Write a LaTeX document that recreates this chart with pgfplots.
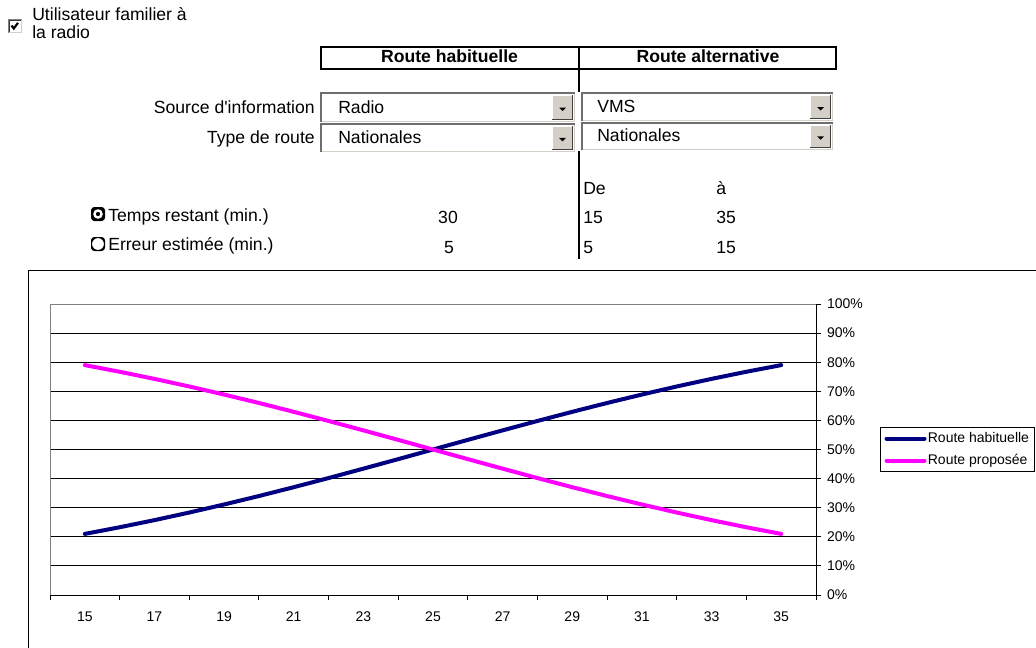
\documentclass[border=0pt]{standalone}
\usepackage{fontspec}
\setmainfont{Liberation Sans}
\usepackage{pgfplots}
\pgfplotsset{compat=1.18}
\definecolor{navyb}{HTML}{000080}
\definecolor{magp}{HTML}{FF00FF}
\definecolor{btn}{HTML}{D4D0C8}
\definecolor{dkg}{HTML}{808080}
\definecolor{brd}{HTML}{6E6E6E}
\newcommand\formfont{\fontsize{13.2pt}{15pt}\selectfont}
\newcommand\chartfont{\fontsize{10.5pt}{12pt}\selectfont}
% combo box: x1 y1 x2 y2 text-x text
\newcommand\combo[6]{%
  \fill[white] (#1,#2) rectangle (#3,#4);
  \draw[brd,line width=1.5pt] (#1+1,#4) -- (#1+1,#2+1) -- (#3,#2+1);
  \draw[btn,line width=0.75pt] (#1+2,#4-0.5) -- (#3-0.5,#4-0.5) -- (#3-0.5,#2+2);
  \fill[btn] (#3-23,#2+3) rectangle (#3-2,#4-2);
  \draw[white,line width=0.75pt] (#3-22.5,#4-2) -- (#3-22.5,#2+3.5) -- (#3-2,#2+3.5);
  \draw[black!75,line width=0.75pt] (#3-23,#4-2.5) -- (#3-2.5,#4-2.5) -- (#3-2.5,#2+3);
  \fill[black] ({#3-16},{(#2+#4)/2+0.5}) -- ({#3-9},{(#2+#4)/2+0.5}) -- ({#3-12.5},{(#2+#4)/2+4}) -- cycle;
  \node[anchor=base west,inner sep=0pt,font=\formfont] at (#5,{#4-9}) {#6};
}
\begin{document}
\begin{tikzpicture}
\useasboundingbox (0,0) rectangle (777pt,-485.25pt);
\clip (0,0) rectangle (777pt,-485.25pt);
\begin{scope}[x=0.75pt,y=-0.75pt]
  % checkbox
  \fill[white] (8,19) rectangle (22,33);
  \draw[dkg,line width=0.75pt] (8.5,33) -- (8.5,19.5) -- (22,19.5);
  \draw[black!80,line width=0.75pt] (9.5,32) -- (9.5,20.5) -- (21,20.5);
  \draw[btn,line width=0.75pt] (9,32.5) -- (21.5,32.5) -- (21.5,20);
  \draw[black,line width=1.6pt] (11.5,25.5) -- (13.8,28.5) -- (18,22.8);
  \node[anchor=base west,inner sep=0pt,font=\formfont] at (32,20) {Utilisateur familier à};
  \node[anchor=base west,inner sep=0pt,font=\formfont] at (32,38) {la radio};
  % header
  \draw[line width=1.5pt] (321,46.5) rectangle (836,68.5);
  \draw[line width=1.5pt] (579,46.5) -- (579,68.5);
  \node[anchor=base,inner sep=0pt,font=\formfont\bfseries] at (449.5,62.5) {Route habituelle};
  \node[anchor=base,inner sep=0pt,font=\formfont\bfseries] at (708,62.5) {Route alternative};
  \draw[line width=1.5pt] (579,68.5) -- (579,92);
  \draw[line width=1.5pt] (579,151) -- (579,259);
  % labels
  \node[anchor=base east,inner sep=0pt,font=\formfont] at (315,113) {Source d\textquotesingle information};
  \node[anchor=base east,inner sep=0pt,font=\formfont] at (315,143) {Type de route};
  \combo{320}{92}{575}{122}{338}{Radio}
  \combo{320}{122.5}{575}{152}{338}{Nationales}
  \combo{581}{92}{833}{121}{597}{VMS}
  \combo{581}{121.5}{833}{150}{597}{Nationales}
  % radio buttons
  \fill[black,rounded corners=2.5pt] (91,207) rectangle (105,221);
  \fill[white] (98,214) circle (3.6pt);
  \fill[black] (98,214) circle (1.6pt);
  \fill[black,rounded corners=2.5pt] (91,237) rectangle (105,251);
  \fill[white] (98,244) circle (4.4pt);
  \node[anchor=base west,inner sep=0pt,font=\formfont] at (108,221) {Temps restant (min.)};
  \node[anchor=base west,inner sep=0pt,font=\formfont] at (108,250.5) {Erreur estimée (min.)};
  \node[anchor=base,inner sep=0pt,font=\formfont] at (448,223.5) {30};
  \node[anchor=base,inner sep=0pt,font=\formfont] at (449,253) {5};
  \node[anchor=base west,inner sep=0pt,font=\formfont] at (583,194) {De};
  \node[anchor=base west,inner sep=0pt,font=\formfont] at (716,194) {à};
  \node[anchor=base west,inner sep=0pt,font=\formfont] at (583,223.5) {15};
  \node[anchor=base west,inner sep=0pt,font=\formfont] at (716,223.5) {35};
  \node[anchor=base west,inner sep=0pt,font=\formfont] at (583,253) {5};
  \node[anchor=base west,inner sep=0pt,font=\formfont] at (716,253) {15};
  % chart frame
  \draw[line width=0.75pt] (28.5,660) -- (28.5,270.5) -- (1045,270.5);
\end{scope}
\begin{axis}[
  at={(37.5pt,-446.25pt)}, anchor=south west,
  scale only axis, width=574.5pt, height=218.25pt,
  xmin=14, xmax=36, ymin=0, ymax=100,
  axis x line*=bottom, axis y line*=right,
  axis line style={black, line width=0.75pt},
  xtick={15,17,...,35},
  minor xtick={14,16,...,36},
  major x tick style={draw=none},
  minor x tick style={black,line width=0.75pt},
  minor tick length=3.75pt,
  major tick length=3.75pt,
  ytick={0,10,...,100},
  y tick style={black,line width=0.75pt},
  tick align=outside,
  ymajorgrids, grid style={black, line width=0.75pt},
  yticklabel={\pgfmathprintnumber{\tick}\%},
  /pgf/number format/assume math mode=true,
  tick label style={font=\chartfont},
  xticklabel style={yshift=-5.5pt},
  yticklabel style={xshift=1pt},
  legend style={at={(1.0836,0.5773)}, anchor=north west, draw=black, line width=0.75pt,
    font=\chartfont, inner xsep=3pt, inner ysep=0pt, row sep=0pt,
    nodes={inner xsep=1pt, inner ysep=3pt, text height=8pt, text depth=2.5pt}},
  legend cell align=left,
  legend image code/.code={\draw[#1] (0pt,0pt) -- (28.5pt,0pt);},
]
\draw[dkg, line width=0.75pt] (axis cs:14,0) -- (axis cs:14,100) -- (axis cs:36,100);
\addplot[navyb, line width=3pt, line cap=round, line join=round] coordinates {
(15,21.00) (16,23.28) (17,25.73) (18,28.34) (19,31.11) (20,34.01) (21,37.05)
(22,40.19) (23,43.42) (24,46.69) (25,50.00) (26,53.31) (27,56.58) (28,59.81)
(29,62.95) (30,65.99) (31,68.89) (32,71.66) (33,74.27) (34,76.72) (35,79.00)};
\addplot[magp, line width=3pt, line cap=round, line join=round] coordinates {
(15,79.00) (16,76.72) (17,74.27) (18,71.66) (19,68.89) (20,65.99) (21,62.95)
(22,59.81) (23,56.58) (24,53.31) (25,50.00) (26,46.69) (27,43.42) (28,40.19)
(29,37.05) (30,34.01) (31,31.11) (32,28.34) (33,25.73) (34,23.28) (35,21.00)};
\legend{Route habituelle, Route proposée}
\end{axis}
\end{tikzpicture}
\end{document}
